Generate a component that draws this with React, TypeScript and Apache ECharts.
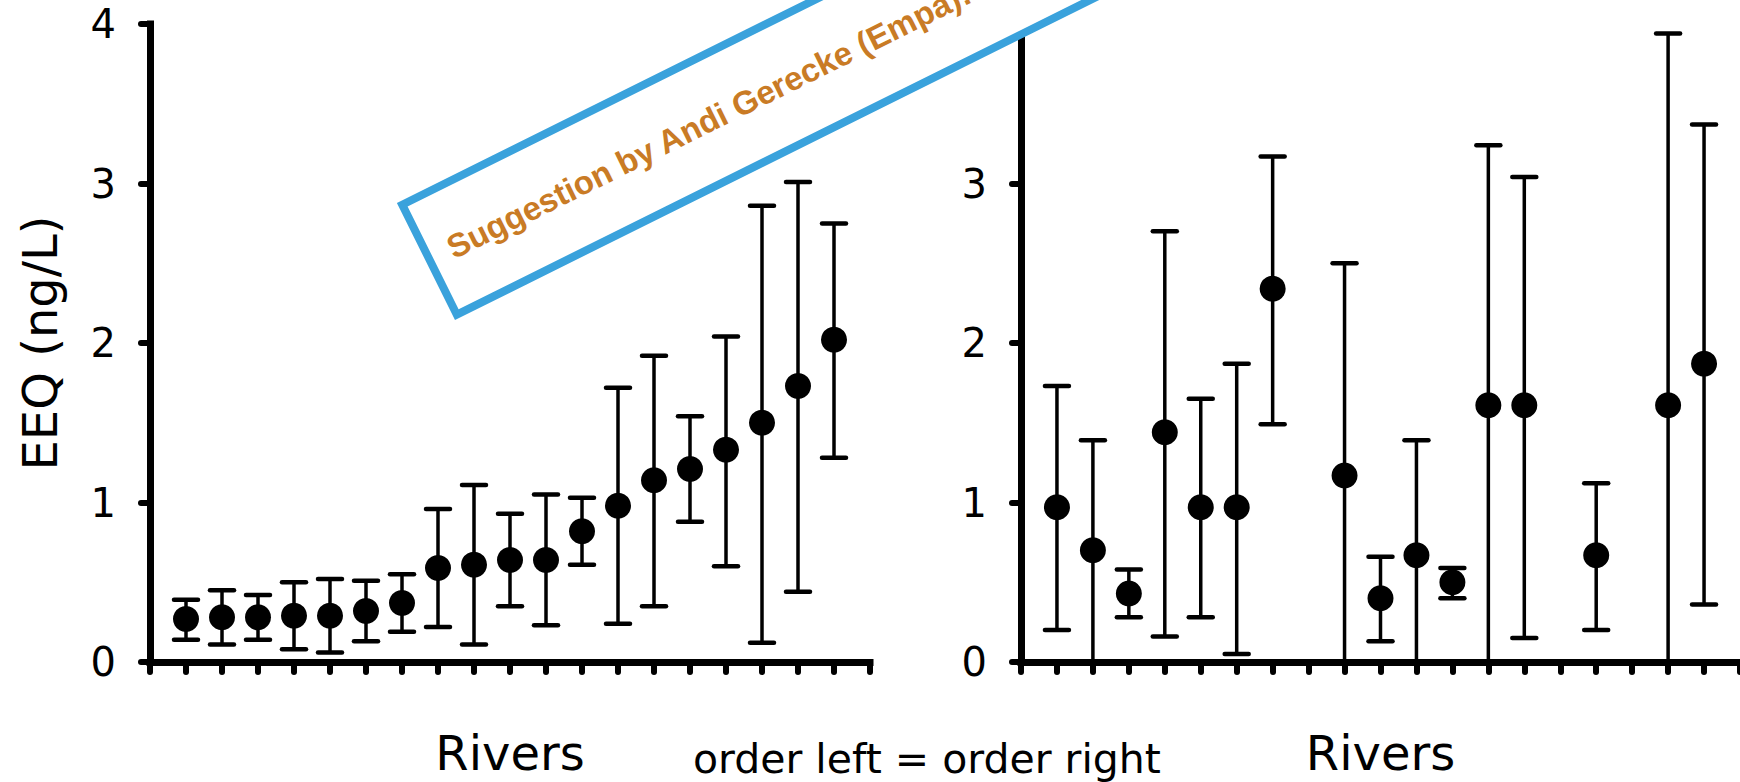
import React, { useEffect, useRef } from "react";
import * as echarts from "echarts";

const FONT = "'Comic Sans MS', 'DejaVu Sans', sans-serif";
const BOX_FONT = "bold 33px 'Liberation Sans', Arial, sans-serif";

// EEQ axis
const yMin = 0;
const yMax = 4;
const yStep = 1;

// river slots along each x axis
const xMin = 0;
const xMax = 20;

// left panel: rivers sorted by mean EEQ
const leftPos = [1, 2, 3, 4, 5, 6, 7, 8, 9, 10, 11, 12, 13, 14, 15, 16, 17, 18, 19];
const leftMean = [0.27, 0.28, 0.28, 0.29, 0.29, 0.32, 0.37, 0.59, 0.61, 0.64, 0.64, 0.82, 0.98, 1.14, 1.21, 1.33, 1.5, 1.73, 2.02];
const leftLow = [0.14, 0.11, 0.14, 0.08, 0.06, 0.13, 0.19, 0.22, 0.11, 0.35, 0.23, 0.61, 0.24, 0.35, 0.88, 0.6, 0.12, 0.44, 1.28];
const leftHigh = [0.39, 0.45, 0.42, 0.5, 0.52, 0.51, 0.55, 0.96, 1.11, 0.93, 1.05, 1.03, 1.72, 1.92, 1.54, 2.04, 2.86, 3.01, 2.75];

// right panel: same river order, gaps where no value; null low = bar runs below zero
const rightPos = [1, 2, 3, 4, 5, 6, 7, 9, 10, 11, 12, 13, 14, 16, 18, 19];
const rightMean = [0.97, 0.7, 0.43, 1.44, 0.97, 0.97, 2.34, 1.17, 0.4, 0.67, 0.5, 1.61, 1.61, 0.67, 1.61, 1.87];
const rightLow: (number | null)[] = [0.2, null, 0.28, 0.16, 0.28, 0.05, 1.49, null, 0.13, null, 0.4, null, 0.15, 0.2, null, 0.36];
const rightHigh = [1.73, 1.39, 0.58, 2.7, 1.65, 1.87, 3.17, 2.5, 0.66, 1.39, 0.59, 3.24, 3.04, 1.12, 3.94, 3.37];

const xTitle = "Rivers";
const yTitle = "EEQ (ng/L)";
const noteText = "order left = order right";
const boxText = "Suggestion by Andi Gerecke (Empa): ...";

const BLACK = "#000";
const BLUE = "#3aa2dc";
const ORANGE = "#c97b25";

function pointData(pos: number[], mean: number[]) {
  return pos.map((p, i) => [p, mean[i]]);
}

function barData(pos: number[], low: (number | null)[], high: number[]) {
  return pos.map((p, i) => [p, low[i] == null ? yMin : (low[i] as number), high[i], low[i] == null ? 1 : 0]);
}

function renderBar(params: any, api: any) {
  const x = api.value(0);
  const lo = api.value(1);
  const hi = api.value(2);
  const open = api.value(3) === 1;
  const top = api.coord([x, hi]);
  const bot = api.coord([x, lo]);
  const half = 12;
  const capStyle = { stroke: BLACK, lineWidth: 4.5, lineCap: "round" };
  const children: any[] = [
    {
      type: "line",
      shape: { x1: top[0], y1: top[1], x2: bot[0], y2: bot[1] },
      style: { stroke: BLACK, lineWidth: 3.5 },
    },
    {
      type: "line",
      shape: { x1: top[0] - half, y1: top[1], x2: top[0] + half, y2: top[1] },
      style: capStyle,
    },
  ];
  if (!open) {
    children.push({
      type: "line",
      shape: { x1: bot[0] - half, y1: bot[1], x2: bot[0] + half, y2: bot[1] },
      style: capStyle,
    });
  }
  return { type: "group", children };
}

function xAxisFor(gridIndex: number) {
  return {
    type: "value",
    gridIndex,
    min: xMin,
    max: xMax,
    interval: 1,
    axisLine: { show: true, onZero: false, lineStyle: { color: BLACK, width: 7, cap: "square" } },
    axisTick: { show: true, inside: false, length: 10, lineStyle: { color: BLACK, width: 6, cap: "round" } },
    axisLabel: { show: false },
    splitLine: { show: false },
    name: xTitle,
    nameLocation: "middle",
    nameGap: 67,
    nameTextStyle: { fontSize: 48, fontFamily: FONT, color: BLACK },
  };
}

function yAxisFor(gridIndex: number, withName: boolean) {
  return {
    type: "value",
    gridIndex,
    min: yMin,
    max: yMax,
    interval: yStep,
    axisLine: { show: true, onZero: false, lineStyle: { color: BLACK, width: 7, cap: "square" } },
    axisTick: { show: true, inside: false, length: 9, lineStyle: { color: BLACK, width: 6, cap: "round" } },
    axisLabel: { show: true, margin: 34, fontSize: 40, fontFamily: FONT, color: BLACK },
    splitLine: { show: false },
    name: withName ? yTitle : "",
    nameLocation: "middle",
    nameGap: 86,
    nameTextStyle: { fontSize: 48, fontFamily: FONT, color: BLACK },
  };
}

export default function App() {
  const ref = useRef<HTMLDivElement>(null);

  useEffect(() => {
    if (!ref.current) return;
    const chart = echarts.init(ref.current, undefined, { renderer: "svg" });
    const boxAngle = (26.4 * Math.PI) / 180;
    const option: any = {
      animation: false,
      backgroundColor: "#fff",
      grid: [
        { left: 150, top: 24, width: 720, height: 649 },
        { left: 1021, top: 24, width: 720, height: 649 },
      ],
      xAxis: [xAxisFor(0), xAxisFor(1)],
      yAxis: [yAxisFor(0, true), yAxisFor(1, false)],
      series: [
        {
          type: "custom",
          xAxisIndex: 0,
          yAxisIndex: 0,
          renderItem: renderBar,
          encode: { x: 0, y: [1, 2] },
          data: barData(leftPos, leftLow, leftHigh),
          z: 2,
        },
        {
          type: "scatter",
          xAxisIndex: 0,
          yAxisIndex: 0,
          symbol: "circle",
          symbolSize: 26,
          itemStyle: { color: BLACK, opacity: 1 },
          data: pointData(leftPos, leftMean),
          z: 3,
        },
        {
          type: "custom",
          xAxisIndex: 1,
          yAxisIndex: 1,
          renderItem: renderBar,
          encode: { x: 0, y: [1, 2] },
          data: barData(rightPos, rightLow, rightHigh),
          z: 2,
        },
        {
          type: "scatter",
          xAxisIndex: 1,
          yAxisIndex: 1,
          symbol: "circle",
          symbolSize: 26,
          itemStyle: { color: BLACK, opacity: 1 },
          data: pointData(rightPos, rightMean),
          z: 3,
        },
      ],
      graphic: [
        {
          type: "text",
          left: 930 - 237,
          top: 738,
          style: {
            text: noteText,
            fill: BLACK,
            fontSize: 41,
            fontFamily: FONT,
          },
        },
        {
          type: "group",
          x: 456.8,
          y: 314.6,
          rotation: boxAngle,
          z: 1000,
          zlevel: 1,
          children: [
            {
              type: "rect",
              z: 1000,
              shape: { x: 0, y: -122.6, width: 1300, height: 122.6 },
              style: { fill: "#fff", stroke: BLUE, lineWidth: 8 },
            },
            {
              type: "text",
              z: 1001,
              x: 22,
              y: -62,
              style: {
                text: boxText,
                fill: ORANGE,
                font: BOX_FONT,
                align: "left",
                verticalAlign: "middle",
                textAlign: "left",
                textVerticalAlign: "middle",
              },
            },
          ],
        },
      ],
    };
    chart.setOption(option);
    return () => chart.dispose();
  }, []);

  return (
    <div
      ref={ref}
      style={{ position: "absolute", left: 0, top: 0, width: 1740, height: 782 }}
    />
  );
}
